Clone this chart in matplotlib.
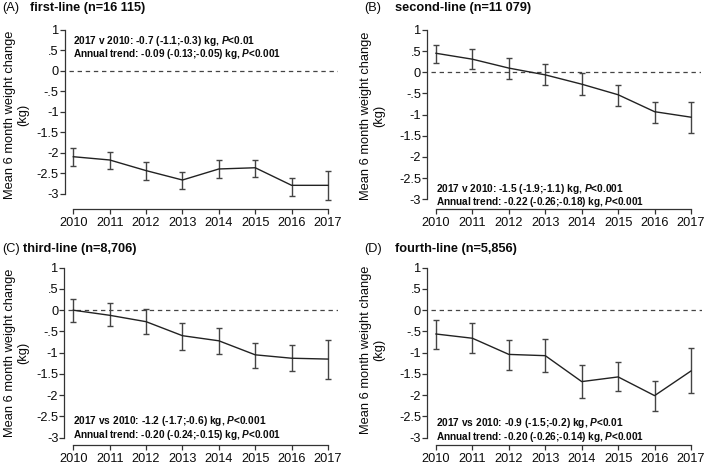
import matplotlib
matplotlib.use("Agg")
import matplotlib.pyplot as plt

plt.rcParams['font.family'] = ['Liberation Sans', 'DejaVu Sans']
plt.rcParams['mathtext.fontset'] = 'custom'
plt.rcParams['mathtext.it'] = 'Liberation Sans:italic:bold'
plt.rcParams['mathtext.rm'] = 'Liberation Sans:bold'
plt.rcParams['mathtext.bf'] = 'Liberation Sans:bold'

years = [2010, 2011, 2012, 2013, 2014, 2015, 2016, 2017]
year_labels = [str(y) for y in years]
y_ticks = [1, 0.5, 0, -0.5, -1, -1.5, -2, -2.5, -3]
y_tick_labels = ['1', '.5', '0', '-.5', '-1', '-1.5', '-2', '-2.5', '-3']

a_mean = [-2.10, -2.18, -2.44, -2.67, -2.40, -2.37, -2.80, -2.80]
a_lo = [-2.32, -2.40, -2.66, -2.89, -2.63, -2.59, -3.05, -3.16]
a_hi = [-1.89, -1.98, -2.24, -2.47, -2.19, -2.18, -2.61, -2.46]

b_mean = [0.45, 0.31, 0.10, -0.06, -0.28, -0.53, -0.93, -1.06]
b_lo = [0.22, 0.08, -0.16, -0.30, -0.53, -0.79, -1.19, -1.44]
b_hi = [0.65, 0.54, 0.33, 0.20, -0.02, -0.30, -0.69, -0.69]

c_mean = [0.0, -0.12, -0.27, -0.60, -0.72, -1.05, -1.13, -1.15]
c_lo = [-0.27, -0.38, -0.57, -0.93, -1.04, -1.35, -1.44, -1.62]
c_hi = [0.27, 0.18, 0.02, -0.30, -0.41, -0.77, -0.83, -0.70]

d_mean = [-0.56, -0.66, -1.04, -1.07, -1.68, -1.57, -2.01, -1.43]
d_lo = [-0.91, -1.00, -1.40, -1.46, -2.06, -1.91, -2.37, -1.95]
d_hi = [-0.22, -0.31, -0.70, -0.68, -1.29, -1.22, -1.66, -0.89]

panel_letters = ['(A)', '(B)', '(C)', '(D)']
panel_titles = ['first-line (n=16 115)', 'second-line (n=11 079)',
                'third-line (n=8,706)', 'fourth-line (n=5,856)']
ann_line1 = ['2017 v 2010: -0.7 (-1.1;-0.3) kg, $P$<0.01',
             '2017 v 2010: -1.5 (-1.9;-1.1) kg, $P$<0.001',
             '2017 vs 2010: -1.2 (-1.7;-0.6) kg, $P$<0.001',
             '2017 vs 2010: -0.9 (-1.5;-0.2) kg, $P$<0.01']
ann_line2 = ['Annual trend: -0.09 (-0.13;-0.05) kg, $P$<0.001',
             'Annual trend: -0.22 (-0.26;-0.18) kg, $P$<0.001',
             'Annual trend: -0.20 (-0.24;-0.15) kg, $P$<0.001',
             'Annual trend: -0.20 (-0.26;-0.14) kg, $P$<0.001']
ylabel = 'Mean 6 month weight change\n(kg)'

W, H = 709, 468
fig = plt.figure(figsize=(W / 100, H / 100), dpi=100)

def fx(px):
    return px / W

def fy(py):
    return 1 - py / H

# layout in pixels: spine_x, x2010, x2017, x_right, y_at_1, y_at_m3, y_axisline
geo = [
    (64.5, 73.3, 328.0, 338.0, 30.0, 193.5, 208.5),
    (426.7, 436.0, 691.0, 701.0, 30.0, 199.3, 209.0),
    (64.0, 73.3, 328.0, 338.0, 267.7, 437.7, 444.8),
    (426.7, 436.0, 691.0, 702.0, 267.7, 437.7, 444.7),
]
# text positions in pixels
letter_pos = [(2, 8), (364, 8), (2, 249), (364, 249)]
title_pos = [(30, 8), (395, 8), (23, 249), (395, 249)]
ann_pos = [(72.7, 40.7, 54.0), (435.7, 189.3, 202.0),
           (72.7, 420.7, 434.5), (435.7, 423.3, 436.7)]
ylab_pos = [(17, 115), (373, 116), (17, 353), (373, 350)]

means = [a_mean, b_mean, c_mean, d_mean]
los = [a_lo, b_lo, c_lo, d_lo]
his = [a_hi, b_hi, c_hi, d_hi]

line_col = '#222222'
err_col = '#444444'
txt_col = '#0a0a0a'

for i in range(4):
    sx, x0, x7, xr, y1, ym3, ya = geo[i]
    ppy = (x7 - x0) / 7.0
    ppu = (ym3 - y1) / 4.0
    xmin = 2010 - (x0 - sx) / ppy
    xmax = 2017 + (xr - x7) / ppy
    ymin = -3 - (ya - ym3) / ppu
    ymax = 1 + 1.0 / ppu
    top_px = y1 - 1.0
    ax = fig.add_axes([fx(sx), fy(ya), fx(xr - sx), (ya - top_px) / H])
    ax.set_xlim(xmin, xmax)
    ax.set_ylim(ymin, ymax)
    ax.patch.set_alpha(0)

    m = means[i]
    lo = [m[k] - los[i][k] for k in range(8)]
    hi = [his[i][k] - m[k] for k in range(8)]
    ax.axhline(0, xmin=0.015, xmax=1.0, color=err_col, lw=0.9, ls=(0, (3.5, 3.0)))
    ax.errorbar(years, m, yerr=[lo, hi], fmt='none', ecolor=err_col,
                elinewidth=1.0, capsize=2.0, capthick=1.0)
    ax.plot(years, m, color=line_col, lw=1.0)

    for s in ['top', 'right']:
        ax.spines[s].set_visible(False)
    ax.spines['left'].set_bounds(-3, 1)
    ax.spines['bottom'].set_bounds(2010, 2017)
    for s in ['left', 'bottom']:
        ax.spines[s].set_color('#333333')
        ax.spines[s].set_linewidth(0.9)
    ax.set_xticks(years)
    ax.set_xticklabels(year_labels)
    ax.set_yticks(y_ticks)
    ax.set_yticklabels(y_tick_labels)
    ax.tick_params(axis='x', length=3.8, width=0.9, color='#333333', pad=2.0,
                   labelsize=9.2, labelcolor=txt_col)
    ax.tick_params(axis='y', length=3.3, width=0.9, color='#333333', pad=0.8,
                   labelsize=9.2, labelcolor=txt_col)

    lx, ly = letter_pos[i]
    fig.text(fx(lx), fy(ly), panel_letters[i], fontsize=9.2, ha='left', va='center',
             color=txt_col)
    tx, ty = title_pos[i]
    fig.text(fx(tx), fy(ty), panel_titles[i], fontsize=9.2, fontweight='bold',
             ha='left', va='center', color=txt_col)
    axp, ay1, ay2 = ann_pos[i]
    fig.text(fx(axp), fy(ay1), ann_line1[i], fontsize=7.3, fontweight='bold',
             ha='left', va='center', color=txt_col)
    fig.text(fx(axp), fy(ay2), ann_line2[i], fontsize=7.2, fontweight='bold',
             ha='left', va='center', color=txt_col)
    yx, yy = ylab_pos[i]
    fig.text(fx(yx), fy(yy), ylabel, fontsize=9.3, rotation=90, ha='center',
             va='center', multialignment='center', linespacing=1.15,
             color=txt_col)

fig.savefig('out.png', dpi=100)
